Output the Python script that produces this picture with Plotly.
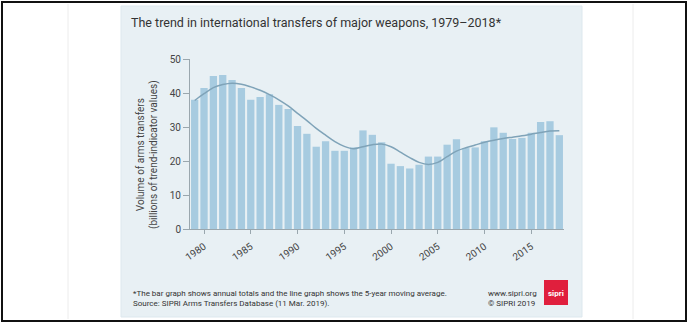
import plotly.graph_objects as go

# Annual volume of international transfers of major weapons (billions of TIV)
years = list(range(1979, 2019))
annual_totals = [
    38.0, 41.5, 45.0, 45.3, 43.8, 41.5, 38.0, 38.8, 39.6, 36.5,
    35.3, 30.3, 28.0, 24.2, 25.8, 23.0, 23.0, 24.0, 29.0, 27.7,
    25.5, 19.2, 18.5, 17.8, 18.9, 21.3, 21.3, 24.8, 26.4, 23.8,
    24.0, 25.8, 29.9, 28.3, 26.5, 26.8, 28.3, 31.5, 31.7, 27.6,
]
# 5-year moving average
moving_avg = [
    37.8, 39.8, 41.6, 42.5, 42.9, 42.6, 41.8, 40.8, 39.5, 38.0,
    36.2, 34.0, 31.9, 29.6, 27.6, 25.7, 24.3, 23.6, 24.2, 24.8,
    25.0, 24.2, 22.6, 21.0, 19.6, 19.0, 19.6, 21.3, 22.9, 23.9,
    24.7, 25.5, 26.1, 26.6, 27.0, 27.4, 27.9, 28.4, 28.8, 28.9,
]
x_ticks = [1980, 1985, 1990, 1995, 2000, 2005, 2010, 2015]
y_ticks = [0, 10, 20, 30, 40, 50]

title_text = "The trend in international transfers of major weapons, 1979\u20132018*"
y_title = "Volume of arms transfers<br>(billions of trend-indicator values)"
note_lines = [
    "*The bar graph shows annual totals and the line graph shows the 5-year moving average.",
    "Source: SIPRI Arms Transfers Database (11 Mar. 2019).",
]
credit_lines = ["www.sipri.org", "\u00a9 SIPRI 2019"]

W, H = 688, 323
L, R, T, B = 190, 564, 59, 229  # plot area in pixels

PANEL = "#e8f0f4"
BAR = "#a7cbe0"
LINE = "#7fa3b8"
TEXT = "#333333"
FONT = "Roboto, sans-serif"


def px(x):
    return (x - L) / (R - L)


def py(y):
    return (B - y) / (B - T)


fig = go.Figure()
fig.add_trace(go.Bar(x=years, y=annual_totals, marker=dict(color=BAR, line=dict(width=0)),
                     width=0.78, showlegend=False))
fig.add_trace(go.Scatter(x=years, y=moving_avg, mode="lines",
                         line=dict(color=LINE, width=1.5, shape="spline", smoothing=1.0),
                         showlegend=False))

shapes = [
    # outer frame
    dict(type="rect", xref="paper", yref="paper", x0=px(2), x1=px(686), y0=py(2), y1=py(321),
         line=dict(color="#111111", width=2), fillcolor="white", layer="below"),
    dict(type="line", xref="paper", yref="paper", x0=px(68), x1=px(68), y0=py(4), y1=py(319),
         line=dict(color="#ececec", width=1), layer="below"),
    dict(type="line", xref="paper", yref="paper", x0=px(633), x1=px(633), y0=py(4), y1=py(319),
         line=dict(color="#ececec", width=1), layer="below"),
    # chart panel
    dict(type="rect", xref="paper", yref="paper", x0=px(121), x1=px(582), y0=py(6), y1=py(317),
         line=dict(color="#dde8ee", width=1), fillcolor=PANEL, layer="below"),
    # logo
    dict(type="rect", xref="paper", yref="paper", x0=px(544), x1=px(568), y0=py(280), y1=py(305),
         line=dict(width=0), fillcolor="#e01f3d", layer="above"),
]

annotations = [
    dict(text=title_text, xref="paper", yref="paper", x=px(129), y=py(22), xanchor="left",
         yanchor="middle", showarrow=False, font=dict(family=FONT, size=12.5, color=TEXT)),
    dict(text=y_title, xref="paper", yref="paper", x=px(147), y=py(155), xanchor="center",
         yanchor="middle", textangle=-90, showarrow=False,
         font=dict(family=FONT, size=10, color="#444444")),
    dict(text=note_lines[0], xref="paper", yref="paper", x=px(131), y=py(293), xanchor="left",
         yanchor="middle", showarrow=False, font=dict(family=FONT, size=8, color=TEXT)),
    dict(text=note_lines[1], xref="paper", yref="paper", x=px(131), y=py(303), xanchor="left",
         yanchor="middle", showarrow=False, font=dict(family=FONT, size=8, color=TEXT)),
    dict(text=credit_lines[0], xref="paper", yref="paper", x=px(486), y=py(293), xanchor="left",
         yanchor="middle", showarrow=False, font=dict(family=FONT, size=8, color=TEXT)),
    dict(text=credit_lines[1], xref="paper", yref="paper", x=px(486), y=py(303), xanchor="left",
         yanchor="middle", showarrow=False, font=dict(family=FONT, size=8, color=TEXT)),
    dict(text="<b>sipri</b>", xref="paper", yref="paper", x=px(556), y=py(293), xanchor="center",
         yanchor="middle", showarrow=False, font=dict(family=FONT, size=8, color="white")),
]

fig.update_layout(
    width=W, height=H,
    margin=dict(l=L, r=W - R, t=T, b=H - B, pad=0),
    paper_bgcolor="white",
    plot_bgcolor=PANEL,
    bargap=0.2,
    shapes=shapes,
    annotations=annotations,
    xaxis=dict(range=[1978.5, 2018.5], tickvals=x_ticks, ticktext=[str(v) for v in x_ticks],
               tickangle=-35, ticks="outside", ticklen=4, tickcolor="#9aa7ae",
               ticklabelstandoff=3,
               showline=True, linecolor="#9aa7ae", linewidth=1, showgrid=False, zeroline=False,
               tickfont=dict(family=FONT, size=10, color="#444444")),
    yaxis=dict(range=[0, 50], tickvals=y_ticks, ticks="outside", ticklen=6, tickcolor="#9aa7ae",
               showline=True, linecolor="#9aa7ae", linewidth=1, showgrid=False, zeroline=False,
               tickfont=dict(family=FONT, size=10, color="#444444")),
)

fig.write_html("out.html")
